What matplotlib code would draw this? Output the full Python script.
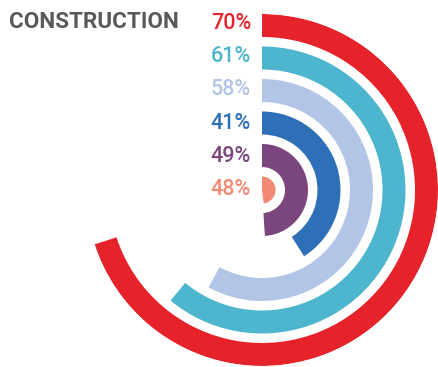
import numpy as np
import matplotlib
matplotlib.use("Agg")
import matplotlib.pyplot as plt

title = "CONSTRUCTION"
values = [70, 61, 58, 41, 49, 48]          # outer ring -> inner
colors = ["#e6232a", "#4db5cd", "#b2c5e6", "#2d70b8", "#7b457d", "#f28a73"]

W, H = 438, 367
fig = plt.figure(figsize=(W / 100, H / 100), dpi=100)

# polar axes: center at (262, 190) px, radius 176 px
R = 176.0
cx, cy = 262.0, 190.0
ax = fig.add_axes([(cx - R) / W, (H - cy - R) / H, 2 * R / W, 2 * R / H],
                  projection="polar")
ax.set_theta_zero_location("N")
ax.set_theta_direction(-1)
ax.set_ylim(0, R)
ax.set_axis_off()

step = 32.5
band = 23.0
label_step = 33.2
n = len(values)
for i, (v, c) in enumerate(zip(values, colors)):
    outer = R - i * step
    inner = max(outer - band, 0) if i < n - 1 else 0
    ax.bar(0, outer - inner, width=v / 100 * 2 * np.pi, bottom=inner,
           align="edge", color=c, edgecolor="none", linewidth=0)
    lr = R - 9.5 - label_step * i
    ax.annotate(f"{v}%", xy=(0, lr), xytext=(-11, 0),
                textcoords="offset pixels", ha="right", va="center",
                fontsize=15.5, color=c, family="Roboto", fontweight="medium",
                annotation_clip=False)

fig.text(9 / W, 1 - 22.5 / H, title, ha="left", va="center", fontsize=16.2,
         fontweight="bold", family="Roboto", color="#595959")

fig.savefig("out.png", dpi=100)
